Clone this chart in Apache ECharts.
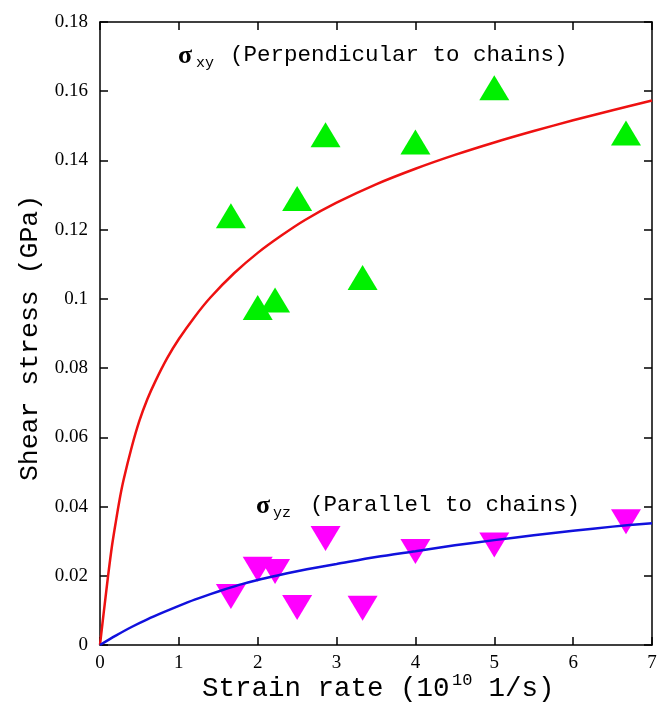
<!DOCTYPE html>
<html>
<head>
<meta charset="utf-8">
<script src="https://cdn.jsdelivr.net/npm/echarts@6/dist/echarts.min.js"></script>
<style>
html,body{margin:0;padding:0;background:#fff;}
#chart{width:665px;height:707px;}
</style>
</head>
<body>
<div id="chart"></div>
<script>
// Tick values
const xTicks = [0, 1, 2, 3, 4, 5, 6, 7];
const yTicks = [0, 0.02, 0.04, 0.06, 0.08, 0.1, 0.12, 0.14, 0.16, 0.18];

// sigma_xy data (perpendicular to chains), green up-triangles
const xyRate   = [1.66, 2.0, 2.22, 2.5, 2.86, 3.33, 4.0, 5.0, 6.67];
const xyStress = [0.124, 0.0975, 0.0997, 0.129, 0.1474, 0.1062, 0.1453, 0.161, 0.1479];

// sigma_yz data (parallel to chains), magenta down-triangles
const yzRate   = [1.66, 2.0, 2.22, 2.5, 2.86, 3.33, 4.0, 5.0, 6.67];
const yzStress = [0.014, 0.0219, 0.0212, 0.0108, 0.0308, 0.0106, 0.027, 0.0289, 0.0356];

// Red fit curve
const redX = [0, 0.03, 0.06, 0.1, 0.15, 0.2, 0.25, 0.3, 0.4, 0.5, 0.6, 0.7, 0.85, 1.0, 1.2, 1.4, 1.7, 2.0, 2.3, 2.6, 3.0, 3.5, 4.0, 4.5, 5.0, 5.5, 6.0, 6.5, 7.0];
const redY = [0, 0.0060, 0.0118, 0.0195, 0.0283, 0.0355, 0.0422, 0.0478, 0.0570, 0.0648, 0.0710, 0.0761, 0.0828, 0.0884, 0.0948, 0.1004, 0.1074, 0.1133, 0.1183, 0.1228, 0.1278, 0.1331, 0.1376, 0.1416, 0.1452, 0.1485, 0.1516, 0.1545, 0.1573];

// Blue fit curve
const blueX = [0, 0.2, 0.4, 0.6, 0.8, 1.0, 1.2, 1.4, 1.6, 1.8, 2.0, 2.25, 2.5, 2.75, 3.0, 3.5, 4.0, 4.5, 5.0, 5.5, 6.0, 6.5, 7.0];
const blueY = [0, 0.0027, 0.0052, 0.0074, 0.0094, 0.0113, 0.0131, 0.0147, 0.0162, 0.0176, 0.0188, 0.0201, 0.0213, 0.0224, 0.0234, 0.0254, 0.0271, 0.0288, 0.0303, 0.0317, 0.0330, 0.0342, 0.0352];

const zip = (a, b) => a.map((v, i) => [v, b[i]]);

const chart = echarts.init(document.getElementById('chart'), null, {renderer: 'canvas'});

const axisLineStyle = {color: '#000', width: 1.5};
const tickFont = {color: '#000', fontFamily: 'Liberation Serif', fontSize: 19};
const mono = 'Liberation Mono';

const option = {
  animation: false,
  backgroundColor: '#fff',
  grid: {left: 100, right: 13, top: 22, bottom: 62, containLabel: false},
  xAxis: [
    {type: 'value', position: 'bottom', min: xTicks[0], max: xTicks[xTicks.length - 1], interval: 1,
     axisLine: {show: true, onZero: false, lineStyle: axisLineStyle},
     axisTick: {show: true, inside: true, length: 8, lineStyle: axisLineStyle},
     axisLabel: Object.assign({margin: 9}, tickFont),
     splitLine: {show: false}},
    {type: 'value', position: 'top', min: xTicks[0], max: xTicks[xTicks.length - 1], interval: 1,
     axisLine: {show: true, onZero: false, lineStyle: axisLineStyle},
     axisTick: {show: true, inside: true, length: 8, lineStyle: axisLineStyle},
     axisLabel: {show: false}, splitLine: {show: false}}
  ],
  yAxis: [
    {type: 'value', position: 'left', min: yTicks[0], max: yTicks[yTicks.length - 1], interval: 0.02,
     axisLine: {show: true, onZero: false, lineStyle: axisLineStyle},
     axisTick: {show: true, inside: true, length: 8, lineStyle: axisLineStyle},
     axisLabel: Object.assign({margin: 12, formatter: v => String(+v.toFixed(2))}, tickFont),
     splitLine: {show: false}},
    {type: 'value', position: 'right', min: yTicks[0], max: yTicks[yTicks.length - 1], interval: 0.02,
     axisLine: {show: true, onZero: false, lineStyle: axisLineStyle},
     axisTick: {show: true, inside: true, length: 8, lineStyle: axisLineStyle},
     axisLabel: {show: false}, splitLine: {show: false}}
  ],
  series: [
    {type: 'scatter', name: 'xy', data: zip(xyRate, xyStress), symbol: 'triangle', symbolSize: [30, 25],
     itemStyle: {color: '#00f000', opacity: 1}, z: 2},
    {type: 'scatter', name: 'yz', data: zip(yzRate, yzStress), symbol: 'triangle', symbolRotate: 180, symbolSize: [30, 25],
     itemStyle: {color: '#ff00ff', opacity: 1}, z: 2},
    {type: 'line', name: 'fitxy', data: zip(redX, redY), showSymbol: false, smooth: 0.3,
     lineStyle: {color: '#ee1111', width: 2.5}, itemStyle: {color: '#ee1111'}, z: 3},
    {type: 'line', name: 'fityz', data: zip(blueX, blueY), showSymbol: false, smooth: 0.3,
     lineStyle: {color: '#1111dd', width: 2.5}, itemStyle: {color: '#1111dd'}, z: 3}
  ],
  graphic: [
    // sigma_xy annotation
    {type: 'text', left: 178, top: 43, style: {text: 'σ', fontFamily: 'Liberation Serif', fontWeight: 'bold', fontSize: 26, fill: '#000'}},
    {type: 'text', left: 196, top: 56, style: {text: 'xy', fontFamily: mono, fontSize: 15, fill: '#000'}},
    {type: 'text', left: 230, top: 44, style: {text: '(Perpendicular to chains)', fontFamily: mono, fontSize: 22.5, fill: '#000'}},
    // sigma_yz annotation
    {type: 'text', left: 256, top: 493, style: {text: 'σ', fontFamily: 'Liberation Serif', fontWeight: 'bold', fontSize: 26, fill: '#000'}},
    {type: 'text', left: 273, top: 506, style: {text: 'yz', fontFamily: mono, fontSize: 15, fill: '#000'}},
    {type: 'text', left: 310, top: 494, style: {text: '(Parallel to chains)', fontFamily: mono, fontSize: 22.5, fill: '#000'}},
    // x axis title
    {type: 'text', left: 202, top: 675, style: {text: 'Strain rate (10', fontFamily: mono, fontSize: 27.5, fill: '#000'}},
    {type: 'text', left: 452, top: 672, style: {text: '10', fontFamily: mono, fontSize: 17, fill: '#000'}},
    {type: 'text', left: 472, top: 675, style: {text: ' 1/s)', fontFamily: mono, fontSize: 27.5, fill: '#000'}},
    // y axis title
    {type: 'text', x: 30, y: 338, rotation: Math.PI / 2,
     style: {text: 'Shear stress (GPa)', fontFamily: mono, fontSize: 26.5, fill: '#000', align: 'center', verticalAlign: 'middle'}}
  ]
};
chart.setOption(option);
</script>
</body>
</html>
